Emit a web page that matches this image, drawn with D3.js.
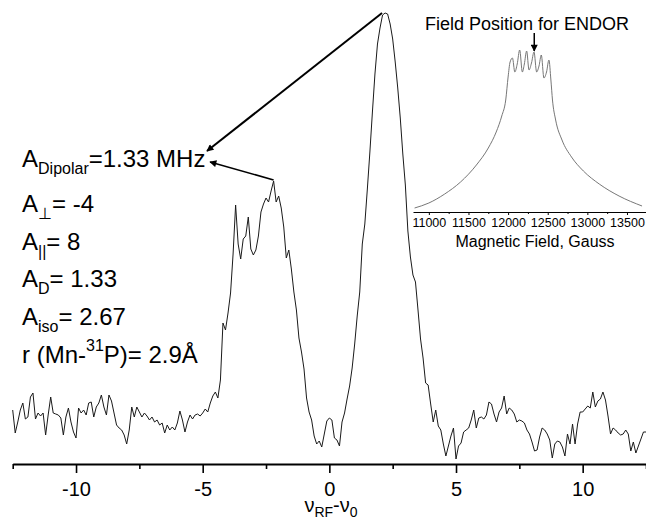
<!DOCTYPE html>
<html>
<head>
<meta charset="utf-8">
<script src="https://cdn.jsdelivr.net/npm/d3@7"></script>
<style>
body { margin: 0; background: #fff; }
svg { display: block; font-family: "Liberation Sans", Arial, sans-serif; }
</style>
</head>
<body>
<svg width="646" height="522"></svg>
<script>
const width = 646, height = 522;
const svg = d3.select("svg");

// ENDOR spectrum: intensity read every 0.1 MHz from -12.5 to 12.5
const freqStart = -12.5, freqStep = 0.1;
const endorIntensity = [
    54,31,42,54,61,45,47,67,71,45,
    51,48,51,29,49,67,51,50,49,46,
    29,47,56,42,32,26,56,51,54,49,
    61,62,47,57,61,69,57,49,69,63,
    51,39,36,34,29,20,34,57,47,57,
    52,47,51,48,44,47,42,44,39,41,
    31,39,34,37,34,41,53,44,32,42,
    49,45,49,50,48,51,55,52,61,68,
    72,66,84,
    141,134,151,171,210,259,220,205,225,228,
    247,215,209,214,228,252,260,266,262,273,
    283,262,268,256,237,206,214,195,172,154,
    126,112,95,66,52,44,28,20,23,17,
    30,43,46,44,26,24,18,42,51,65,
    78,96,120,148,172,220,240,275,312,352,
    390,420,436,449,451,450,440,425,402,376,
    346,310,279,233,207,189,182,154,125,106,
    81,79,60,42,54,38,34,20,8,18,
    28,36,5,18,21,32,34,36,44,54,
    36,46,47,45,49,62,60,50,42,52,
    56,68,50,56,54,50,42,44,43,41,
    34,30,22,13,14,27,36,34,30,24,
    6,20,23,22,17,8,30,20,40,20,
    40,52,52,55,58,56,72,57,63,65,
    72,64,48,30,36,34,31,29,30,34,
    30,13,22,11,18,25,32,32
];
const majorTicks = [-10, -5, 0, 5, 10];
const minorTicks = [-12.5, -7.5, -2.5, 2.5, 7.5, 12.5];

// inset EPR spectrum
const eprField = [10820, 11000, 11200, 11400, 11600, 11750, 11850, 11920, 11970, 12000,
    12025, 12055, 12085, 12115, 12146, 12180, 12205, 12234, 12264, 12295,
    12327, 12360, 12390, 12419, 12452, 12485, 12515, 12540, 12560, 12600,
    12680, 12800, 12950, 13150, 13400, 13690];
const eprIntensity = [4, 9, 18, 30, 47, 64, 80, 96, 112, 135,
    150, 154, 140, 148, 162, 140, 148, 161, 142, 149,
    160, 140, 146, 157, 134, 140, 152, 132, 112, 92,
    72, 55, 41, 28, 16, 6];
const eprTicks = [11000, 11500, 12000, 12500, 13000, 13500];
const eprMinorTicks = [11250, 11750, 12250, 12750, 13250];
const endorField = 12330;

// annotation: peak positions the arrows start from, [MHz, intensity]
const peakMain = [2.08, 451];
const peakLeft = [-2.2, 284];
const labelLines = [
    { main: "A", sub: "Dipolar", rest: "=1.33 MHz" },
    { main: "A", sub: "\u22A5", rest: "= -4" },
    { main: "A", sub: "||", rest: "= 8" },
    { main: "A", sub: "D", rest: "= 1.33" },
    { main: "A", sub: "iso", rest: "= 2.67" }
];

const spectrum = endorIntensity.map((d, i) => ({ f: freqStart + i * freqStep, v: d }));

// scales
const xScale = d3.scaleLinear().domain([-12.5, 12.5]).range([12.7, 646]);
const yScale = d3.scaleLinear().domain([0, 454]).range([464, 10]);

svg.append("rect").attr("width", width).attr("height", height).attr("fill", "#fff");

const defs = svg.append("defs");
defs.append("marker")
    .attr("id", "arrow")
    .attr("viewBox", "0 0 10 10")
    .attr("refX", 9)
    .attr("refY", 5)
    .attr("markerUnits", "userSpaceOnUse")
    .attr("markerWidth", 9)
    .attr("markerHeight", 7)
    .attr("orient", "auto")
    .append("path")
    .attr("d", "M0,0 L10,5 L0,10 z")
    .attr("fill", "#000");

// main spectrum
const line = d3.line().x(d => xScale(d.f)).y(d => yScale(d.v));
svg.append("path")
    .datum(spectrum)
    .attr("d", line)
    .attr("fill", "none")
    .attr("stroke", "#1a1a1a")
    .attr("stroke-width", 1);

// x axis
const fmt = d => d < 0 ? "-" + Math.abs(d) : String(d);
const xAxis = svg.append("g")
    .attr("transform", `translate(0,${yScale(0)})`)
    .call(d3.axisBottom(xScale).tickValues(majorTicks).tickFormat(fmt)
        .tickSize(9).tickSizeOuter(0).tickPadding(9));
xAxis.select(".domain").attr("stroke-width", 2);
xAxis.selectAll(".tick line").attr("stroke-width", 1.6);
xAxis.selectAll(".tick text")
    .style("font-size", "20px")
    .style("font-family", "'Liberation Sans', Arial, sans-serif");

const xMinor = svg.append("g")
    .attr("transform", `translate(0,${yScale(0)})`)
    .call(d3.axisBottom(xScale).tickValues(minorTicks).tickFormat("").tickSize(5).tickSizeOuter(0));
xMinor.select(".domain").remove();
xMinor.selectAll(".tick line").attr("stroke-width", 1.6);

// axis title
const xTitle = svg.append("text")
    .attr("x", 331)
    .attr("y", 512)
    .attr("text-anchor", "middle")
    .style("font-size", "20px");
xTitle.append("tspan").text("\u03BD");
xTitle.append("tspan").attr("dy", 5).style("font-size", "14px").text("RF");
xTitle.append("tspan").attr("dy", -5).text("-\u03BD");
xTitle.append("tspan").attr("dy", 5).style("font-size", "14px").text("0");

// annotation text block
const baselines = [167, 212, 250, 287, 325];
labelLines.forEach((l, i) => {
    const t = svg.append("text")
        .attr("x", 22)
        .attr("y", baselines[i])
        .style("font-size", "24px");
    t.append("tspan").text(l.main);
    t.append("tspan").attr("dy", 7).style("font-size", "16px").text(l.sub);
    t.append("tspan").attr("dy", -7).text(l.rest);
});
const rLine = svg.append("text")
    .attr("x", 22)
    .attr("y", 363)
    .style("font-size", "24px");
rLine.append("tspan").text("r (Mn-");
rLine.append("tspan").attr("dy", -12).style("font-size", "16px").text("31");
rLine.append("tspan").attr("dy", 12).text("P)= 2.9\u00C5");

// arrows from peaks to the label
svg.append("line")
    .attr("x1", xScale(peakMain[0])).attr("y1", yScale(peakMain[1]))
    .attr("x2", xScale(-4.83)).attr("y2", yScale(313))
    .attr("stroke", "#000").attr("stroke-width", 2)
    .attr("marker-end", "url(#arrow)");
svg.append("line")
    .attr("x1", xScale(peakLeft[0])).attr("y1", yScale(peakLeft[1]))
    .attr("x2", xScale(-4.71)).attr("y2", yScale(302))
    .attr("stroke", "#000").attr("stroke-width", 1.6)
    .attr("marker-end", "url(#arrow)");

// inset
const ix = d3.scaleLinear().domain([10800, 13740]).range([413, 646]);
const iy = d3.scaleLinear().domain([0, 170]).range([212, 42]);
const inset = svg.append("g");

inset.append("path")
    .datum(eprField.map((f, i) => ({ f: f, v: eprIntensity[i] })))
    .attr("d", d3.line().x(d => ix(d.f)).y(d => iy(d.v)).curve(d3.curveMonotoneX))
    .attr("fill", "none")
    .attr("stroke", "#777")
    .attr("stroke-width", 1);

const iAxis = inset.append("g")
    .attr("transform", `translate(0,${iy(0)})`)
    .call(d3.axisBottom(ix).tickValues(eprTicks).tickFormat(d3.format("d"))
        .tickSize(3).tickSizeOuter(0).tickPadding(3));
iAxis.selectAll(".tick text")
    .style("font-size", "12.5px")
    .style("font-family", "'Liberation Sans', Arial, sans-serif");
const iMinor = inset.append("g")
    .attr("transform", `translate(0,${iy(0)})`)
    .call(d3.axisBottom(ix).tickValues(eprMinorTicks).tickFormat("").tickSize(2).tickSizeOuter(0));
iMinor.select(".domain").remove();

inset.append("text")
    .attr("x", 535)
    .attr("y", 247)
    .attr("text-anchor", "middle")
    .style("font-size", "16px")
    .text("Magnetic Field, Gauss");

inset.append("text")
    .attr("x", 527)
    .attr("y", 30)
    .attr("text-anchor", "middle")
    .style("font-size", "18px")
    .text("Field Position for ENDOR");

inset.append("line")
    .attr("x1", ix(endorField)).attr("y1", iy(179))
    .attr("x2", ix(endorField)).attr("y2", iy(161))
    .attr("stroke", "#000").attr("stroke-width", 1.5)
    .attr("marker-end", "url(#arrow)");
</script>
</body>
</html>
